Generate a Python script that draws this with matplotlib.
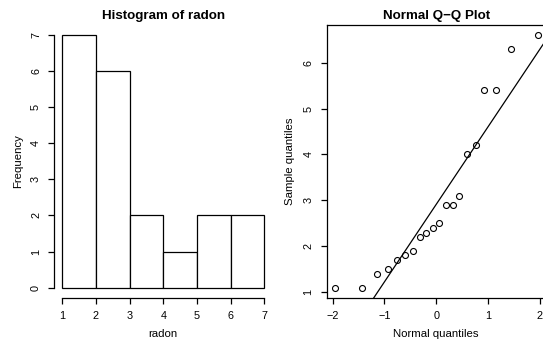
import matplotlib
matplotlib.use("Agg")
import matplotlib.pyplot as plt
import numpy as np

# Data
radon = [1.1, 1.1, 1.4, 1.5, 1.7, 1.8, 1.9, 2.2, 2.3, 2.4,
         2.5, 2.9, 2.9, 3.1, 4.0, 4.2, 5.4, 5.4, 6.3, 6.6]
bin_edges = [1, 2, 3, 4, 5, 6, 7]
theoretical_q = [-1.96, -1.44, -1.15, -0.93, -0.76, -0.60, -0.45, -0.32, -0.19, -0.06,
                 0.06, 0.19, 0.32, 0.45, 0.60, 0.76, 0.93, 1.15, 1.44, 1.96]
hist_yticks = [0, 1, 2, 3, 4, 5, 6, 7]
hist_xticks = [1, 2, 3, 4, 5, 6, 7]
qq_xticks = [-2, -1, 0, 1, 2]
qq_yticks = [1, 2, 3, 4, 5, 6]

plt.rcParams['font.family'] = ['Liberation Sans', 'DejaVu Sans']
W, H = 543, 343
fig = plt.figure(figsize=(W / 100, H / 100), dpi=100)

def px_axes(x0, x1, y0, y1):
    return fig.add_axes([x0 / W, (H - y1) / H, (x1 - x0) / W, (y1 - y0) / H])

tick_fs = 7.8
lab_fs = 8.2
title_fs = 9.6
lw = 0.9

# R-style right-closed bins (a, b], lowest included
idx = np.clip(np.searchsorted(bin_edges, radon, side='left') - 1, 0, len(bin_edges) - 2)
counts = np.bincount(idx, minlength=len(bin_edges) - 1)

# ---- Histogram ----
ax1 = px_axes(54.2, 272.4, 25, 297.7)
ax1.hist(bin_edges[:-1], bins=bin_edges, weights=counts,
         facecolor='white', edgecolor='black', linewidth=lw)
ax1.set_xlim(0.76, 7.24)
ax1.set_ylim(-0.28, 7.28)
for s in ['top', 'right']:
    ax1.spines[s].set_visible(False)
ax1.spines['left'].set_bounds(0, 7)
ax1.spines['bottom'].set_bounds(1, 7)
for s in ['left', 'bottom']:
    ax1.spines[s].set_linewidth(lw)
ax1.set_xticks(hist_xticks)
ax1.set_yticks(hist_yticks)
ax1.set_yticklabels([str(v) for v in hist_yticks], rotation=90, va='center')
ax1.tick_params(length=4.5, width=lw, labelsize=tick_fs, pad=5)
ax1.set_title('Histogram of radon', fontsize=title_fs, fontweight='bold', pad=4)
ax1.set_xlabel('radon', fontsize=lab_fs, labelpad=6)
ax1.set_ylabel('Frequency', fontsize=lab_fs, labelpad=6)

# ---- Normal Q-Q plot ----
ax2 = px_axes(326.7, 545.7, 25, 297.7)
ax2.plot(theoretical_q, radon, linestyle='none', marker='o', markersize=4.3,
         markerfacecolor='none', markeredgecolor='black', markeredgewidth=0.8)
yq1, yq3 = np.percentile(radon, [25, 75])
zq = 0.6744897501960817
slope = (yq3 - yq1) / (2 * zq)
intercept = (yq1 + yq3) / 2
ax2.axline((0, intercept), slope=slope, color='black', linewidth=lw)
ax2.set_xlim(-2.117, 2.117)
ax2.set_ylim(0.88, 6.82)
for s in ax2.spines.values():
    s.set_linewidth(lw)
ax2.set_xticks(qq_xticks)
ax2.set_xticklabels(['\u2212' + str(-v) if v < 0 else str(v) for v in qq_xticks])
ax2.set_yticks(qq_yticks)
ax2.set_yticklabels([str(v) for v in qq_yticks], rotation=90, va='center')
ax2.tick_params(length=4.5, width=lw, labelsize=tick_fs, pad=5)
ax2.set_title('Normal Q\u2212Q Plot', fontsize=title_fs, fontweight='bold', pad=4)
ax2.set_xlabel('Normal quantiles', fontsize=lab_fs, labelpad=6)
ax2.set_ylabel('Sample quantiles', fontsize=lab_fs, labelpad=6)

fig.savefig('out.png', dpi=100)
